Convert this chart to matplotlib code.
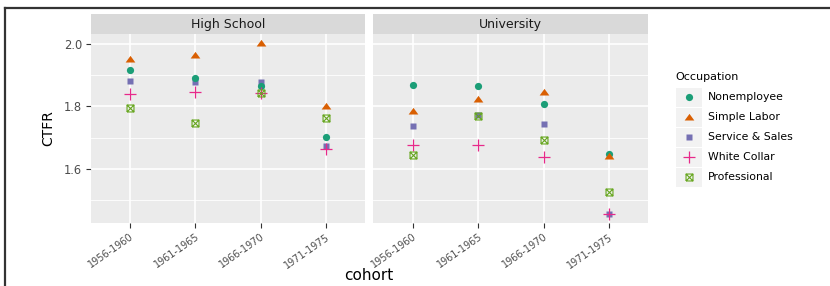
import matplotlib
matplotlib.use("Agg")
import matplotlib.pyplot as plt
from matplotlib.path import Path
from matplotlib.lines import Line2D
from matplotlib.patches import Rectangle

cohorts = ["1956-1960", "1961-1965", "1966-1970", "1971-1975"]
panels = ["High School", "University"]
occupations = ["Nonemployee", "Simple Labor", "Service & Sales", "White Collar", "Professional"]

hs_nonemployee = [1.917, 1.892, 1.867, 1.703]
hs_simple = [1.953, 1.966, 2.004, 1.802]
hs_service = [1.880, 1.878, 1.878, 1.675]
hs_white = [1.839, 1.847, 1.842, 1.664]
hs_prof = [1.796, 1.746, 1.844, 1.762]

un_nonemployee = [1.870, 1.866, 1.808, 1.647]
un_simple = [1.786, 1.825, 1.847, 1.643]
un_service = [1.739, 1.773, 1.744, 1.457]
un_white = [1.676, 1.676, 1.637, 1.457]
un_prof = [1.645, 1.769, 1.693, 1.525]

yticks = [1.6, 1.8, 2.0]
yminor = [1.5, 1.7, 1.9]

data = {
    "High School": [hs_nonemployee, hs_simple, hs_service, hs_white, hs_prof],
    "University": [un_nonemployee, un_simple, un_service, un_white, un_prof],
}

colors = ["#1B9E77", "#D95F02", "#7570B3", "#E7298A", "#66A61E"]

tri = Path([(-1, -0.62), (1, -0.62), (0, 0.75), (-1, -0.62)],
           [Path.MOVETO, Path.LINETO, Path.LINETO, Path.CLOSEPOLY])
boxx = Path([(-1, -1), (1, -1), (1, 1), (-1, 1), (-1, -1),
             (-1, -1), (1, 1), (-1, 1), (1, -1)],
            [Path.MOVETO, Path.LINETO, Path.LINETO, Path.LINETO, Path.LINETO,
             Path.MOVETO, Path.LINETO, Path.MOVETO, Path.LINETO])
styles = [
    dict(marker="o", ms=5.2, mec="none"),
    dict(marker=tri, ms=7.0, mec="none"),
    dict(marker="s", ms=4.8, mec="none"),
    dict(marker="+", ms=8.5, mew=0.9),
    dict(marker=boxx, ms=5.0, mew=0.8, mfc="none"),
]

W, H = 830, 286
fig = plt.figure(figsize=(W / 100, H / 100), dpi=100)
fig.patch.set_facecolor("white")

def fx(x):
    return x / W

def fy(y):
    return 1 - y / H

panel_px = [(90.7, 365.0), (373.3, 648.3)]
ptop, pbot, stop = 34.0, 222.7, 14.0

ytick_font = dict(family="DejaVu Sans", size=8.3, color="#4D4D4D")
xtick_font = dict(family="DejaVu Sans", size=7.0, color="#4D4D4D")

axes = []
for i, (pname, (x0, x1)) in enumerate(zip(panels, panel_px)):
    ax = fig.add_axes([fx(x0), fy(pbot), (x1 - x0) / W, (pbot - ptop) / H])
    ax.set_facecolor("#EBEBEB")
    for s in ax.spines.values():
        s.set_visible(False)
    ax.set_xlim(0.4, 4.6)
    ax.set_ylim(1.428, 2.032)
    xs = list(range(1, len(cohorts) + 1))
    for v in yminor:
        ax.axhline(v, color="white", lw=0.6, zorder=0.5)
    for v in yticks:
        ax.axhline(v, color="white", lw=1.2, zorder=0.6)
    for x in xs:
        ax.axvline(x, color="white", lw=1.2, zorder=0.6)
    ax.set_axisbelow(True)
    order = [2, 0, 1, 3, 4]
    for k in order:
        vals = data[pname][k]
        st = dict(styles[k])
        ax.plot(xs, vals, ls="none", color=colors[k], zorder=3, **st)
    ax.set_xticks(xs)
    ax.set_xticklabels(cohorts, rotation=35, ha="right", va="top",
                       rotation_mode="anchor", **xtick_font)
    ax.tick_params(axis="x", length=3.5, width=0.8, color="#333333", pad=3)
    if i == 0:
        ax.set_yticks(yticks)
        ax.set_yticklabels([f"{v:.1f}" for v in yticks], **ytick_font)
        ax.tick_params(axis="y", length=3.5, width=0.8, color="#333333", pad=2.5)
    else:
        ax.set_yticks(yticks)
        ax.set_yticklabels([])
        ax.tick_params(axis="y", length=0)
    # strip
    sax = fig.add_axes([fx(x0), fy(ptop), (x1 - x0) / W, (ptop - stop) / H])
    sax.set_facecolor("#D9D9D9")
    sax.set_xticks([]); sax.set_yticks([])
    for s in sax.spines.values():
        s.set_visible(False)
    sax.text(0.5, 0.47, pname, ha="center", va="center", transform=sax.transAxes,
             family="DejaVu Sans", size=9, color="#1A1A1A")
    axes.append(ax)

# axis titles
fig.text(fx(48.5), fy(128), "CTFR", rotation=90, ha="center", va="center",
         family="DejaVu Sans", size=10, color="black")
fig.text(fx(369), fy(276), "cohort", ha="center", va="center",
         family="DejaVu Sans", size=11, color="black")

# overlay for legend and frame
ov = fig.add_axes([0, 0, 1, 1], facecolor="none")
ov.set_xlim(0, W)
ov.set_ylim(H, 0)
ov.axis("off")
ov.add_line(Line2D([4.5, W], [7.5, 7.5], color="#333333", lw=1.6))
ov.add_line(Line2D([4.5, 4.5], [7.5, H], color="#333333", lw=1.6))

ov.text(675, 77, "Occupation", ha="left", va="center",
        family="DejaVu Sans", size=8, color="black")
for k, name in enumerate(occupations):
    y0 = 87.3 + 20 * k
    ov.add_patch(Rectangle((676, y0 + 0.5), 26, 19, facecolor="#F2F2F2",
                           edgecolor="none"))
    st = dict(styles[k])
    ov.plot([689], [y0 + 10], ls="none", color=colors[k], **st)
    ov.text(708, y0 + 10, name, ha="left", va="center",
            family="DejaVu Sans", size=7.8, color="black")

fig.savefig("out.png", dpi=100)
